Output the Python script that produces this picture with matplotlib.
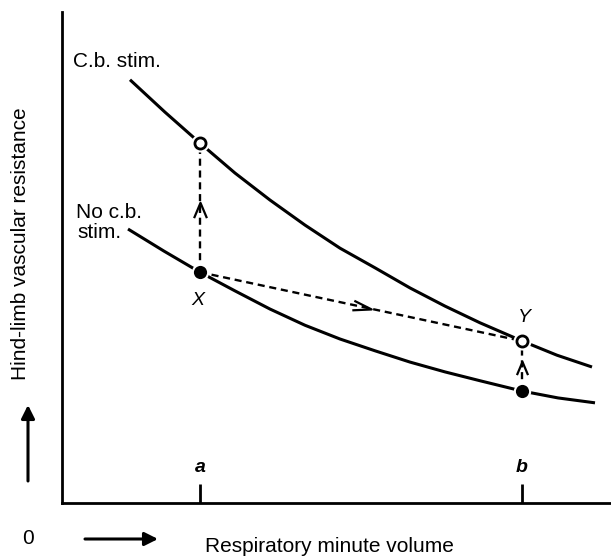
import matplotlib
matplotlib.use("Agg")
import matplotlib.pyplot as plt
from matplotlib.path import Path
from matplotlib.markers import MarkerStyle
from matplotlib.transforms import Affine2D

plt.rcParams['font.family'] = ['Liberation Sans', 'DejaVu Sans']

# curve readings (arbitrary units)
cb_x = [1.36, 2.06, 2.76, 3.46, 4.16, 4.86, 5.56, 6.26, 6.96, 7.66, 8.36, 9.20, 9.90, 10.60]
cb_y = [8.62, 7.96, 7.33, 6.72, 6.17, 5.66, 5.19, 4.79, 4.38, 4.01, 3.67, 3.30, 3.01, 2.77]
nocb_x = [1.32, 2.04, 2.76, 3.46, 4.16, 4.86, 5.56, 6.26, 6.96, 7.66, 8.36, 9.20, 9.92, 10.66]
nocb_y = [5.58, 5.13, 4.70, 4.32, 3.95, 3.62, 3.34, 3.10, 2.87, 2.67, 2.49, 2.28, 2.14, 2.04]

# respiratory volumes a and b and the state points
vol_ticks = [2.76, 9.20]
vol_labels = ['a', 'b']
cb_pts = [7.33, 3.30]
nocb_pts = [4.70, 2.28]

fig = plt.figure(figsize=(6.11, 5.57), dpi=100)
ax = fig.add_axes([62/611, 54/557, 549/611, 491/557])
ax.set_xlim(0, 10.98)
ax.set_ylim(0, 10)

for s in ['top', 'right']:
    ax.spines[s].set_visible(False)
for s in ['left', 'bottom']:
    ax.spines[s].set_linewidth(2)
ax.set_yticks([])
ax.set_xticks(vol_ticks)
ax.tick_params(axis='x', direction='in', length=14, width=2, labelbottom=False)
for x, lab in zip(vol_ticks, vol_labels):
    ax.text(x, 0.73, lab, ha='center', va='center', fontsize=14,
            style='italic', weight='bold')

# the two curves
ax.plot(cb_x, cb_y, color='k', lw=2.2, solid_capstyle='butt', solid_joinstyle='round', zorder=2)
ax.plot(nocb_x, nocb_y, color='k', lw=2.2, solid_capstyle='butt', solid_joinstyle='round', zorder=2)

# dashed transitions
dash = dict(color='k', lw=1.7, dashes=(3, 2), zorder=3)
ax.plot([vol_ticks[0], vol_ticks[0]], [nocb_pts[0], cb_pts[0]], **dash)
ax.plot([vol_ticks[0], vol_ticks[1]], [nocb_pts[0], cb_pts[1]], **dash)
ax.plot([vol_ticks[1], vol_ticks[1]], [nocb_pts[1], cb_pts[1]], **dash)

# chevrons on dashed lines
up = Path([(-0.42, -0.5), (0, 0.5), (0.42, -0.5)], [Path.MOVETO, Path.LINETO, Path.LINETO])
right = Path([(-0.5, 0.26), (0.5, 0), (-0.5, -0.26)], [Path.MOVETO, Path.LINETO, Path.LINETO])
right_m = MarkerStyle(right, transform=Affine2D().rotate_deg(-12))
ax.plot([vol_ticks[0]], [5.97], marker=up, ms=11, mfc='none', mec='k', mew=1.6, zorder=4)
ax.plot([vol_ticks[1]], [2.75], marker=up, ms=9.5, mfc='none', mec='k', mew=1.6, zorder=4)
ax.plot([6.0], [3.99], marker=right_m, ms=13.5, mfc='none', mec='k', mew=1.6, zorder=4)

# state points
ax.plot(vol_ticks, cb_pts, 'o', ms=13, mfc='white', mec='white', mew=0, zorder=5)
ax.plot(vol_ticks, cb_pts, 'o', ms=8, mfc='white', mec='k', mew=2, zorder=6)
ax.plot(vol_ticks, nocb_pts, 'o', ms=11, mfc='k', mec='white', mew=1.5, zorder=6)

ax.text(2.72, 4.13, 'X', ha='center', va='center', fontsize=14, style='italic')
ax.text(9.24, 3.77, 'Y', ha='center', va='center', fontsize=14, style='italic')

ax.text(0.22, 8.88, 'C.b. stim.', fontsize=15, va='baseline')
ax.text(0.28, 5.80, 'No c.b.', fontsize=15, va='baseline')
ax.text(0.30, 5.40, 'stim.', fontsize=15, va='baseline')

# outside labels and direction arrows
fig.text(21/611, 1 - 244/557, 'Hind-limb vascular resistance', rotation=90,
         ha='center', va='center', fontsize=15)
fig.text(28/611, 1 - 539/557, '0', ha='center', va='center', fontsize=15)
fig.text(205/611, 1 - 552/557, 'Respiratory minute volume', fontsize=15, va='baseline')
ax.annotate('', xy=(28/611, 1 - 405/557), xytext=(28/611, 1 - 481/557),
            xycoords='figure fraction', textcoords='figure fraction',
            arrowprops=dict(arrowstyle='-|>', color='k', lw=2.2, mutation_scale=20,
                            shrinkA=0, shrinkB=0))
ax.annotate('', xy=(158/611, 1 - 539/557), xytext=(85/611, 1 - 539/557),
            xycoords='figure fraction', textcoords='figure fraction',
            arrowprops=dict(arrowstyle='-|>', color='k', lw=2.2, mutation_scale=20,
                            shrinkA=0, shrinkB=0))

fig.savefig('out.png', dpi=100)
